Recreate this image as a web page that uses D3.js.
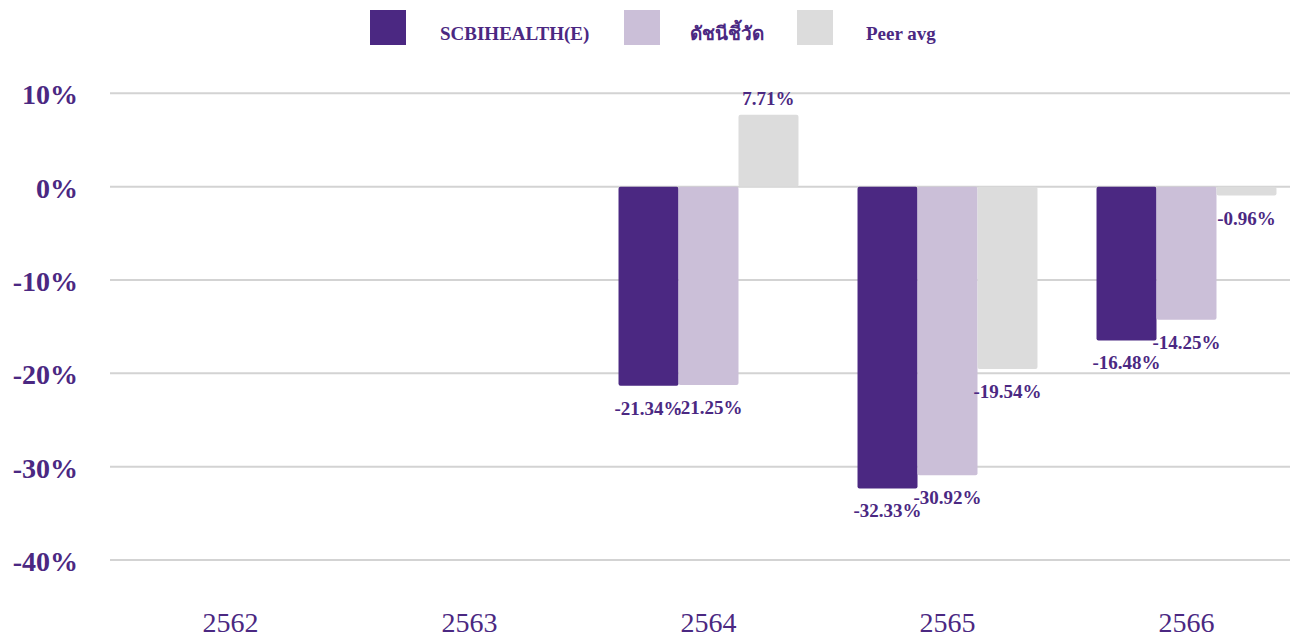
<!DOCTYPE html>
<html>
<head>
<meta charset="utf-8">
<script src="https://cdn.jsdelivr.net/npm/d3@7"></script>
<style>
  body { margin: 0; background: #fff; }
  text { font-family: "Liberation Serif", "Noto Sans CJK SC", serif; }
</style>
</head>
<body>
<div id="chart"></div>
<script>
// ข้อมูลผลตอบแทน
const years = ["2562", "2563", "2564", "2565", "2566"];
const seriesNames = ["SCBIHEALTH(E)", "ดัชนีชี้วัด", "Peer avg"];
const fundValues = [null, null, -21.34, -32.33, -16.48];
const indexValues = [null, null, -21.25, -30.92, -14.25];
const peerValues = [null, null, 7.71, -19.54, -0.96];
const yTicks = [10, 0, -10, -20, -30, -40];
const colors = ["#4b2882", "#cbbfd8", "#dcdcdc"];

const width = 1300;
const height = 639;
const textColor = "#4b2882";

const svg = d3
  .select("#chart")
  .append("svg")
  .attr("width", width)
  .attr("height", height);

const x = d3
  .scaleBand()
  .domain(years)
  .range([111, 1306])
  .paddingInner(0.247)
  .paddingOuter(0.1235);

const xSub = d3
  .scaleBand()
  .domain(seriesNames)
  .range([0, x.bandwidth()]);

const y = d3.scaleLinear().domain([-40, 10]).range([560, 93.3]);

// เส้นกริด
svg
  .append("g")
  .selectAll("line")
  .data(yTicks)
  .enter()
  .append("line")
  .attr("x1", 110)
  .attr("x2", 1290)
  .attr("y1", (d) => y(d))
  .attr("y2", (d) => y(d))
  .attr("stroke", "#d3d3d3")
  .attr("stroke-width", 2);

// แกน Y
const yAxis = svg
  .append("g")
  .attr("transform", "translate(78, 0)")
  .call(
    d3
      .axisLeft(y)
      .tickValues(yTicks)
      .tickSize(0)
      .tickPadding(0)
      .tickFormat((d) => d + "%")
  );
yAxis.select(".domain").remove();
yAxis
  .selectAll("text")
  .attr("fill", textColor)
  .style("font-size", "28px")
  .style("font-weight", "bold")
  .attr("dy", "0.38em");

// แกน X
const xAxis = svg
  .append("g")
  .attr("transform", "translate(0, 608)")
  .call(d3.axisBottom(x).tickSize(0).tickPadding(0));
xAxis.select(".domain").remove();
xAxis
  .selectAll("text")
  .attr("fill", textColor)
  .style("font-size", "28px")
  .attr("dy", "0.85em");

const rows = years.map((year, i) => ({
  year,
  values: [fundValues[i], indexValues[i], peerValues[i]],
}));

rows.forEach((row) => {
  row.values.forEach((v, s) => {
    if (v === null) return;
    const bx = x(row.year) + xSub(seriesNames[s]);
    const top = Math.min(y(v), y(0));
    const h = Math.abs(y(v) - y(0));

    svg
      .append("rect")
      .attr("x", bx)
      .attr("y", top)
      .attr("width", xSub.bandwidth())
      .attr("height", h)
      .attr("rx", 2)
      .attr("fill", colors[s]);

    svg
      .append("text")
      .attr("x", bx + xSub.bandwidth() / 2)
      .attr("y", v < 0 ? y(v) + 29 : y(v) - 10)
      .attr("text-anchor", "middle")
      .attr("fill", textColor)
      .style("font-size", "19px")
      .style("font-weight", "bold")
      .text(v.toFixed(2) + "%");
  });
});

// คำอธิบาย
const legendX = [370, 624, 797];
const legendTextX = [440, 690, 866];
seriesNames.forEach((name, i) => {
  svg
    .append("rect")
    .attr("x", legendX[i])
    .attr("y", 10)
    .attr("width", 36)
    .attr("height", 35)
    .attr("fill", colors[i]);

  svg
    .append("text")
    .attr("x", legendTextX[i])
    .attr("y", 40)
    .attr("fill", textColor)
    .style("font-size", "19px")
    .style("font-weight", "bold")
    .text(name);
});
</script>
</body>
</html>
